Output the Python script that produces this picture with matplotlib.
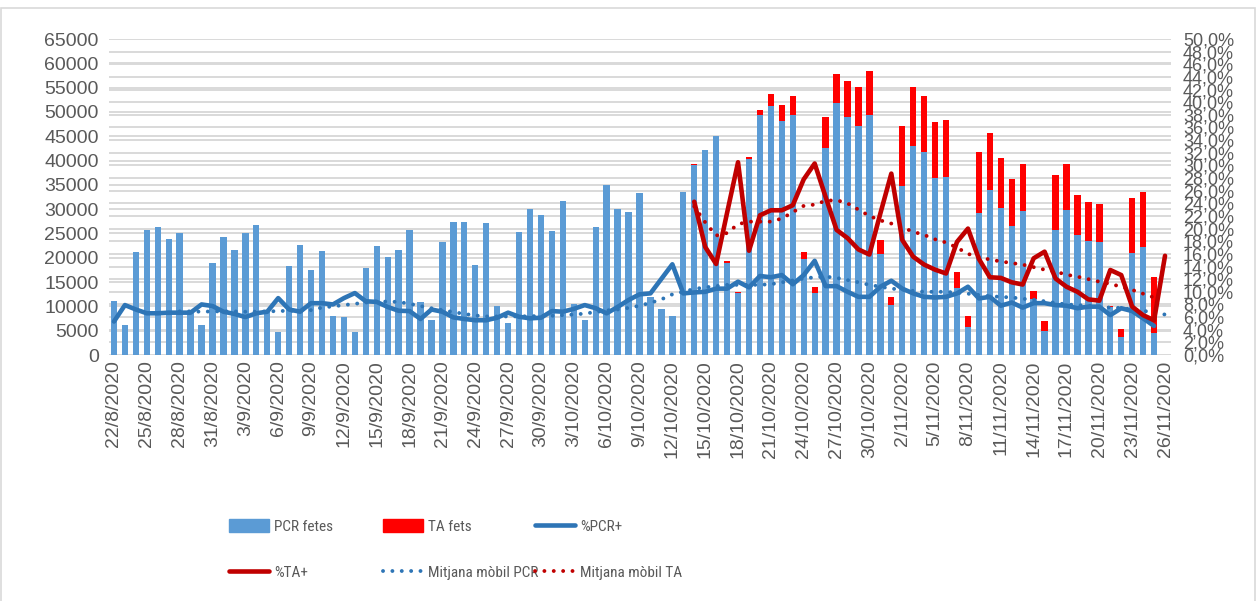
import numpy as np
import pandas as pd
import matplotlib
matplotlib.use("Agg")
import matplotlib.pyplot as plt
from matplotlib import font_manager
from matplotlib.font_manager import FontProperties
from matplotlib.lines import Line2D
from matplotlib.patches import Patch, Rectangle

nan = np.nan

# Categories: one per day, 22/8/2020 .. 26/11/2020
dates = pd.date_range("2020-08-22", "2020-11-26", freq="D")
labels = [f"{d.day}/{d.month}/{d.year}" for d in dates]

# Tests done per day (bars, left axis)
pcr_fetes = [11100, 6200, 21200, 25700, 26300, 23800, 25000, 8700, 6200, 18900,
             24300, 21600, 25000, 26700, 9100, 4800, 18400, 22600, 17400, 21400,
             8000, 7800, 4700, 17900, 22400, 20200, 21600, 25700, 10800, 7200,
             23300, 27400, 27400, 18500, 27100, 10100, 6500, 25300, 30100, 28900,
             25500, 31700, 10400, 7200, 26300, 35000, 30000, 29500, 33300, 12000,
             9500, 8000, 33500, 39100, 42100, 45000, 19000, 12700, 40400, 49300,
             51200, 48100, 49400, 19700, 12700, 42600, 51800, 49000, 47100, 49300,
             20800, 10300, 34800, 43000, 41800, 36400, 36700, 13800, 5800, 29300,
             34000, 30300, 26600, 29700, 11500, 4900, 25700, 29900, 24700, 23450,
             23200, 9800, 3600, 20900, 22300, 4600, 0]
ta_fets = [0] * 52 + [100, 150, 150, 150, 300, 200, 400, 1100, 2400, 3400,
                      3900, 1400, 1300, 6400, 6100, 7400, 8000, 9100, 2800, 1700,
                      12300, 12100, 11500, 11500, 11600, 3200, 2300, 12500, 11600, 10200,
                      9600, 9500, 1700, 2100, 11300, 9300, 8300, 8000, 7900, 300,
                      1700, 11400, 11200, 11400, 0]

# Positivity (%), right axis
pct_pcr = [5.3, 7.9, 7.2, 6.6, 6.6, 6.7, 6.7, 6.7, 8.0, 7.75,
           6.85, 6.5, 6.0, 6.6, 6.85, 9.0, 7.2, 6.85, 8.2, 8.2,
           8.0, 9.0, 9.8, 8.5, 8.4, 7.6, 7.0, 6.95, 5.7, 7.2,
           6.85, 5.95, 5.7, 5.5, 5.5, 5.9, 6.7, 6.05, 5.8, 5.9,
           6.95, 6.85, 7.3, 7.9, 7.4, 6.6, 7.6, 8.7, 9.6, 9.75,
           12.05, 14.35, 9.75, 9.9, 10.0, 10.5, 10.5, 11.6, 10.7, 12.5,
           12.3, 12.65, 11.2, 12.65, 14.9, 10.9, 10.9, 10.0, 9.2, 9.2,
           10.8, 11.75, 10.5, 9.75, 9.2, 9.1, 9.2, 9.75, 10.8, 8.95,
           9.2, 7.8, 8.3, 7.5, 8.2, 8.2, 7.9, 7.8, 7.4, 7.65,
           7.65, 6.3, 7.4, 6.95, 5.8, 4.6, nan]
pct_ta = [nan] * 53 + [24.25, 17.1, 14.4, 22.5, 30.5, 16.5, 22.1, 22.9, 22.9, 23.7,
                       27.8, 30.3, 25.0, 19.8, 18.5, 16.7, 15.9, 22.4, 28.7, 18.2,
                       15.55, 14.3, 13.5, 12.9, 17.9, 20.0, 15.2, 12.3, 12.2, 11.5,
                       11.15, 15.3, 16.35, 12.1, 10.8, 10.0, 8.8, 8.6, 13.45, 12.65,
                       7.65, 6.3, 5.5, 15.7]

# Moving averages as drawn (dotted)
ma_pcr = [nan] * 6 + [6.9, 6.9, 6.85, 6.9, 6.9, 6.9, 6.85, 6.85, 6.9, 6.95,
                      7.0, 7.0, 7.1, 7.5, 7.7, 7.9, 8.1, 8.3, 8.45, 8.45,
                      8.4, 8.1, 7.75, 7.4, 7.1, 6.8, 6.5, 6.25, 6.1, 6.1,
                      6.1, 6.1, 6.15, 6.15, 6.2, 6.3, 6.4, 6.55, 6.8, 7.05,
                      7.2, 7.45, 7.8, 8.25, 8.8, 9.6, 10.0, 10.45, 10.7, 10.9,
                      11.1, 11.1, 11.1, 11.1, 11.2, 11.5, 11.8, 12.1, 12.3, 12.4,
                      12.2, 11.85, 11.5, 11.1, 10.8, 10.5, 10.35, 10.15, 10.0, 10.0,
                      10.0, 9.85, 9.7, 9.5, 9.3, 9.2, 9.1, 8.9, 8.75, 8.5,
                      8.25, 8.0, 7.9, 7.8, 7.65, 7.5, 7.45, 7.2, 7.0, 6.7,
                      6.4]
ma_ta = [nan] * 53 + [23.5, 21.0, 18.9, 19.3, 20.7, 21.1, 21.1, 21.1, 21.6, 22.6,
                      23.6, 23.8, 24.4, 24.5, 24.0, 23.0, 22.0, 21.3, 20.8, 20.2,
                      19.5, 19.0, 18.3, 17.8, 17.0, 16.0, 15.5, 15.1, 14.8, 14.55,
                      14.3, 13.9, 13.5, 13.2, 12.7, 12.4, 12.0, 11.6, 11.25, 10.8,
                      10.3, 9.7, 9.1, nan]

C_PCR_BAR = "#5B9BD5"
C_TA_BAR = "#FF0000"
C_PCR_LINE = "#2E75B6"
C_TA_LINE = "#C00000"
GRID = "#d9d9d9"
TXT = "#595959"

plt.rcParams["font.family"] = ["Liberation Sans", "DejaVu Sans"]


def narrow_font():
    # the legend in the original uses a narrow face; take one if there is one
    fonts = font_manager.fontManager.ttflist
    for name in ["Liberation Sans Narrow", "Roboto Condensed", "Open Sans Condensed"]:
        for f in fonts:
            if f.name == name and f.style == "normal" and f.weight in (400, "normal", "regular"):
                return FontProperties(fname=f.fname, size=11), 11
    for f in fonts:
        if (f.stretch in ("condensed", "semi-condensed") and f.style == "normal"
                and f.weight in (400, "normal", "regular")
                and f.name in ("Noto Sans", "Open Sans", "Roboto", "DejaVu Sans", "Liberation Sans")):
            return FontProperties(fname=f.fname, size=10.3), 10.3
    return FontProperties(family="Liberation Sans", size=9.7), 9.7


leg_prop, leg_size = narrow_font()
leg_px = leg_size * 100 / 72

W, H = 1257, 601
fig = plt.figure(figsize=(W / 100, H / 100), dpi=100)
ax1 = fig.add_axes([108.5 / W, 1 - 355 / H, 1062 / W, 316 / H])
ax2 = ax1.twinx()

x = np.arange(len(labels))
pcr = np.array(pcr_fetes, dtype=float)
ta = np.array(ta_fets, dtype=float)
ax1.bar(x, pcr, width=0.58, color=C_PCR_BAR, zorder=2)
ax1.bar(x, ta, width=0.58, bottom=pcr, color=C_TA_BAR, zorder=2)

ax1.set_xlim(-0.5, len(labels) - 0.5)
ax1.set_ylim(0, 65000)
ax1.set_yticks(np.arange(0, 65001, 5000))
# right-axis gridlines (every 2%) drawn on the left axis, behind the bars
ax1.set_yticks(np.arange(0, 65001, 2600), minor=True)
ax1.grid(axis="y", which="both", color=GRID, linewidth=1.4, zorder=0)
ax1.set_axisbelow(True)
ax1.set_xticks(x[::3])
ax1.set_xticklabels(labels[::3], rotation=90)

ax2.plot(x, pct_pcr, color=C_PCR_LINE, lw=3.3, solid_joinstyle="round", solid_capstyle="round", zorder=3)
ax2.plot(x, pct_ta, color=C_TA_LINE, lw=3.3, solid_joinstyle="round", solid_capstyle="round", zorder=3)
ax2.plot(x, ma_pcr, color=C_PCR_LINE, lw=2.8, linestyle=(0, (0.01, 2.4)), dash_capstyle="round", zorder=2)
ax2.plot(x, ma_ta, color=C_TA_LINE, lw=2.8, linestyle=(0, (0.01, 2.4)), dash_capstyle="round", zorder=2)
ax2.set_ylim(0, 50)
ax2.set_yticks(np.arange(0, 50.1, 2))
ax2.set_yticklabels([f"{v:.1f}%".replace(".", ",") for v in np.arange(0, 50.1, 2)])

for ax in (ax1, ax2):
    for s in ax.spines.values():
        s.set_visible(False)
    ax.tick_params(length=0, labelsize=14, labelcolor=TXT, which="both")
ax1.tick_params(axis="y", pad=7)
ax1.tick_params(axis="x", pad=4)
ax2.tick_params(axis="y", pad=9, labelsize=13)

# legend: three fixed columns like the original
col_x = [229, 383, 535]
cols = [
    [(Patch(color=C_PCR_BAR), "PCR fetes"),
     (Line2D([], [], color=C_TA_LINE, lw=3.3, solid_capstyle="round"), "%TA+")],
    [(Patch(color=C_TA_BAR), "TA fets"),
     (Line2D([], [], color=C_PCR_LINE, lw=2.8, linestyle=(0, (0.01, 2.4)), dash_capstyle="round"), "Mitjana mòbil PCR")],
    [(Line2D([], [], color=C_PCR_LINE, lw=3.3, solid_capstyle="round"), "%PCR+"),
     (Line2D([], [], color=C_TA_LINE, lw=2.8, linestyle=(0, (0.01, 2.4)), dash_capstyle="round"), "Mitjana mòbil TA")],
]
for cx, entries in zip(col_x, cols):
    leg = fig.legend(handles=[h for h, _ in entries], labels=[l for _, l in entries],
                     loc="upper left", bbox_to_anchor=(cx / W, 1 - 519 / H),
                     frameon=False, borderpad=0, borderaxespad=0,
                     handlelength=40 / leg_px, handleheight=14 / leg_px,
                     handletextpad=5 / leg_px,
                     labelspacing=(45 - 0.9 * leg_px) / leg_px, prop=leg_prop)
    for t in leg.get_texts():
        t.set_color(TXT)

# chart border
fig.patches.append(Rectangle((1 / W, -0.02), (W - 3) / W, 1.02 - 8 / H,
                             transform=fig.transFigure, fill=False,
                             edgecolor=GRID, linewidth=1.2))

fig.savefig("out.png", dpi=100)
